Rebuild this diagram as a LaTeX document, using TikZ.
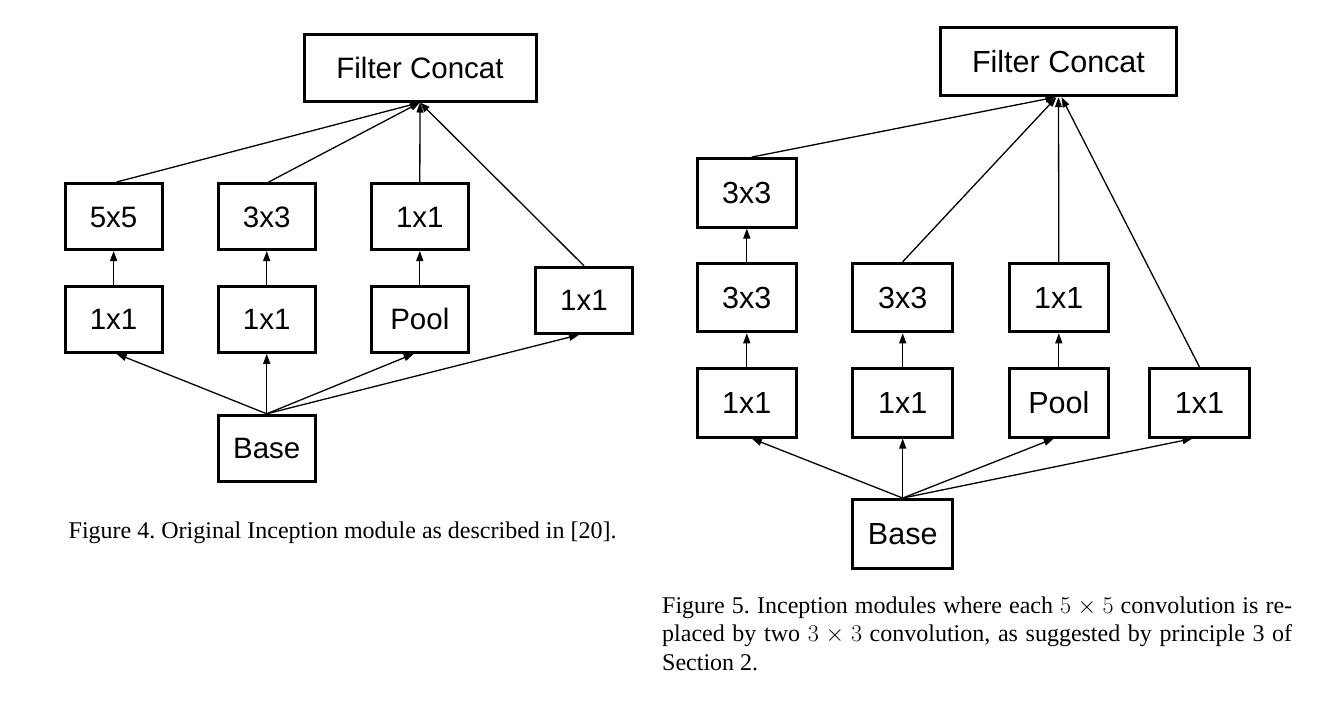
\RequirePackage{fix-cm}
\documentclass[tikz,border=0pt]{standalone}
\usepackage{fontspec}
\setmainfont{Liberation Serif}
\newfontfamily\labelfont{Liberation Sans}
\usetikzlibrary{arrows.meta}
\frenchspacing
\tikzset{
  box/.style={draw, line width=3pt, minimum width=97pt, minimum height=66pt, inner sep=0pt,
    text height=21pt, text depth=0pt,
    font=\labelfont\fontsize{29.5}{35}\selectfont},
  boxf/.style={box, minimum width=99.5pt, minimum height=68.5pt, text height=22pt,
    font=\labelfont\fontsize{30.5}{36}\selectfont},
  arr/.style={-{Triangle[length=10pt,width=7pt]}, line width=1.3pt},
  captext/.style={font=\fontsize{24}{28.8}\selectfont, inner sep=0pt}
}
\begin{document}
\begin{tikzpicture}[x=1pt,y=-1pt]
\useasboundingbox (0,0) rectangle (1325,702);
% ---------- Figure 4 ----------
\node[box, minimum width=232pt, minimum height=67pt] (fc4) at (420,67.5) {Filter Concat};
\node[box] (a5) at (113.6,216.5) {5x5};
\node[box] (a3) at (266.7,216.5) {3x3};
\node[box] (a1) at (419.8,216.5) {1x1};
\node[box] (b1) at (113.6,319.3) {1x1};
\node[box] (b2) at (266.7,319.3) {1x1};
\node[box] (pool4) at (419.8,319.3) {Pool};
\node[box] (r4) at (584,300.3) {1x1};
\node[box] (base4) at (266.7,448.3) {Base};
\draw[arr] ([xshift=3pt]a5.north) -- (fc4.south);
\draw[arr] ([xshift=2pt]a3.north) -- (fc4.south);
\draw[arr] (a1.north) -- (fc4.south);
\draw[arr] (r4.north) -- (fc4.south);
\draw[arr] (b1.north) -- (a5.south);
\draw[arr] (b2.north) -- (a3.south);
\draw[arr] (pool4.north) -- (a1.south);
\draw[arr] (base4.north) -- ([xshift=3pt]b1.south);
\draw[arr] (base4.north) -- (b2.south);
\draw[arr] (base4.north) -- ([xshift=-6pt]pool4.south);
\draw[arr] (base4.north) -- ([xshift=-5pt]r4.south);
\node[captext, anchor=base west] (cap4) at (68.5,538) {Figure 4. Original Inception module as described in [20].};
% ---------- Figure 5 ----------
\node[boxf, minimum width=235.5pt, minimum height=68pt] (fc5) at (1058.5,61.7) {Filter Concat};
\node[boxf] (c3) at (746.8,192.8) {3x3};
\node[boxf] (d3a) at (746.8,297.5) {3x3};
\node[boxf] (d3b) at (902.7,297.5) {3x3};
\node[boxf] (d1) at (1058.8,297.5) {1x1};
\node[boxf] (e1a) at (746.8,402.8) {1x1};
\node[boxf] (e1b) at (902.7,402.8) {1x1};
\node[boxf] (pool5) at (1058.8,402.8) {Pool};
\node[boxf] (r5) at (1199.5,402.8) {1x1};
\node[boxf] (base5) at (902.7,533.8) {Base};
\draw[arr] ([xshift=5pt]c3.north) -- ([xshift=-3pt]fc5.south);
\draw[arr] (d3b.north) -- ([xshift=-2pt]fc5.south);
\draw[arr] (d1.north) -- (fc5.south);
\draw[arr] (r5.north) -- ([xshift=3pt]fc5.south);
\draw[arr] (d3a.north) -- (c3.south);
\draw[arr] (e1a.north) -- (d3a.south);
\draw[arr] (e1b.north) -- (d3b.south);
\draw[arr] (pool5.north) -- (d1.south);
\draw[arr] (base5.north) -- ([xshift=5pt]e1a.south);
\draw[arr] (base5.north) -- (e1b.south);
\draw[arr] (base5.north) -- ([xshift=-5pt]pool5.south);
\draw[arr] (base5.north) -- ([xshift=-7pt]r5.south);
\node[captext, anchor=base west] (cap5) at (662,613) {\parbox[t]{630pt}{%
\hbox to\hsize{Figure 5. Inception modules where each $5\times5$ convolution is re-}%
\hbox to\hsize{placed by two $3\times3$ convolution, as suggested by principle 3 of}%
\hbox{Section 2.}}};
\end{tikzpicture}
\end{document}
